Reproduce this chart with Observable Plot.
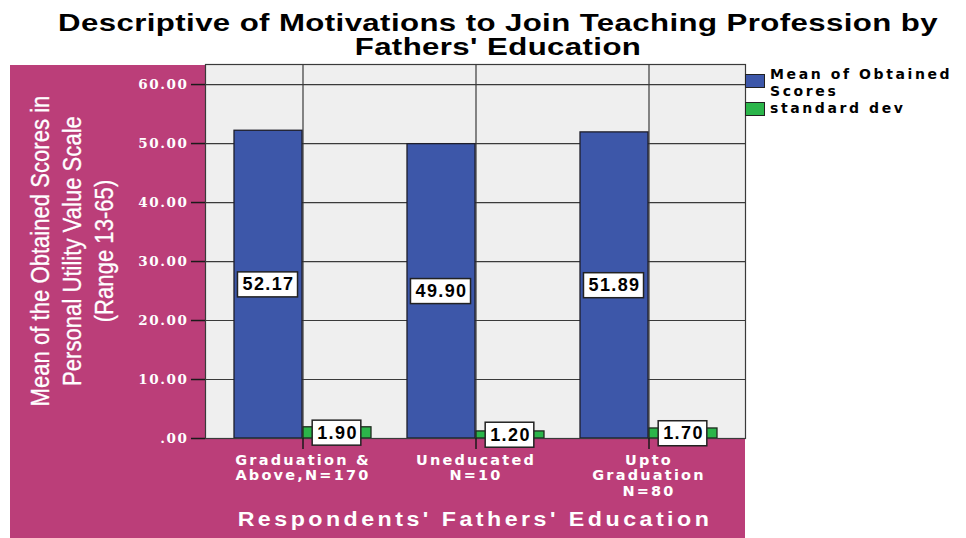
<!DOCTYPE html>
<html>
<head>
<meta charset="utf-8">
<script src="https://cdn.jsdelivr.net/npm/d3@7"></script>
<script src="https://cdn.jsdelivr.net/npm/@observablehq/plot@0.6"></script>
<style>
  html, body { margin: 0; padding: 0; background: #ffffff; }
  #wrap { position: relative; width: 966px; height: 538px; overflow: hidden; }
  #bgpanel { position: absolute; left: 10px; top: 65px; width: 735px; height: 473px; background: #bb3e79; }
  #title { position: absolute; left: 0; top: 11px; width: 996px; text-align: center;
    font-family: "Liberation Sans", Arial, sans-serif; font-weight: bold; font-size: 23px;
    line-height: 24px; letter-spacing: 0.3px; color: #000; transform: scaleX(1.355); transform-origin: 498px 0; }
  #ytitle { position: absolute; left: 72px; top: 251px; width: 400px; margin-left: -200px; margin-top: -48px;
    transform: rotate(-90deg) scaleX(0.85); transform-origin: 50% 48px; text-align: center;
    font-family: "Liberation Sans Narrow", "Liberation Sans", Arial, sans-serif;
    font-size: 26px; line-height: 32px; color: #fff; height: 96px; -webkit-text-stroke: 0.3px #fff; }
  #xtitle { position: absolute; left: 175px; width: 600px; top: 508px; text-align: center;
    font-family: "Liberation Sans", Arial, sans-serif; font-weight: bold; font-size: 20px;
    letter-spacing: 3px; color: #fff; transform: scaleX(1.16); transform-origin: 300px 0; }
  #legend { position: absolute; left: 745px; top: 66px; font-family: "DejaVu Sans", sans-serif;
    font-weight: bold; font-size: 14px; color: #000; letter-spacing: 2.6px; }
  .lg { position: relative; padding-left: 25px; line-height: 16.5px; }
  .sw { position: absolute; left: 0; width: 20px; height: 14px; border: 1px solid #222; box-sizing: border-box; }
  #plot { position: absolute; left: 0; top: 0; }
  g[aria-label="x-axis tick label"] text { letter-spacing: 2.2px; }
  g[aria-label="y-axis tick label"] text { letter-spacing: 1.6px; }
  g[aria-label="text"] text { letter-spacing: 1.4px; }
</style>
</head>
<body>
<div id="wrap">
  <div id="bgpanel"></div>
  <div id="plot"></div>
  <div id="title"></div>
  <div id="ytitle"></div>
  <div id="xtitle"></div>
  <div id="legend"></div>
</div>
<script>
// ---- data ----
const titleLines = ["Descriptive of Motivations to Join Teaching Profession by", "Fathers' Education"];
const yTitleLines = ["Mean of the Obtained Scores in", "Personal Utility Value Scale", "(Range 13-65)"];
const xTitle = "Respondents' Fathers' Education";
const categories = ["Graduation &\nAbove,N=170", "Uneducated\nN=10", "Upto\nGraduation\nN=80"];
const means = [52.17, 49.90, 51.89];
const sds = [1.90, 1.20, 1.70];
const yTicks = [0, 10, 20, 30, 40, 50, 60];
const seriesNames = ["Mean of Obtained\nScores", "standard dev"];
const seriesColors = ["#3d57a9", "#2bb54a"];

const data = categories.map((c, i) => ({cat: c, mean: means[i], sd: sds[i]}));

// ---- text blocks ----
document.getElementById("title").innerHTML = titleLines.join("<br>");
document.getElementById("ytitle").innerHTML = yTitleLines.join("<br>");
document.getElementById("xtitle").textContent = xTitle;
const lg = document.getElementById("legend");
seriesNames.forEach((s, i) => {
  const d = document.createElement("div");
  d.className = "lg";
  d.style.marginBottom = i === 0 ? "1px" : "0";
  d.innerHTML = `<span class="sw" style="background:${seriesColors[i]};top:${i === 0 ? 8 : 2}px"></span>` + s.replace("\n", "<br>");
  lg.appendChild(d);
});

// ---- chart ----
const gridColor = "#3a3a3a";
const labelFont = "Liberation Sans, Arial, sans-serif";
const chart = Plot.plot({
  width: 966,
  height: 538,
  marginTop: 64,
  marginBottom: 100,
  marginLeft: 205,
  marginRight: 221,
  style: {background: "transparent", fontFamily: "DejaVu Sans, sans-serif", overflow: "visible"},
  x: {type: "band", domain: categories, paddingInner: 0, paddingOuter: 0.052, label: null},
  y: {domain: [0, 63.4], label: null},
  marks: [
    Plot.frame({fill: "#efefef", stroke: null}),
    Plot.gridY(yTicks, {stroke: gridColor, strokeOpacity: 1, strokeWidth: 1.2}),
    Plot.gridX({stroke: gridColor, strokeOpacity: 1, strokeWidth: 1.2}),
    Plot.barY(data, {x: "cat", y: "mean", fill: seriesColors[0], stroke: "#1e1e2a", strokeWidth: 1.3, insetLeft: 18, insetRight: 87}),
    Plot.barY(data, {x: "cat", y: "sd", fill: seriesColors[1], stroke: "#1e2a1e", strokeWidth: 1.3, insetLeft: 87, insetRight: 18}),
    Plot.frame({stroke: gridColor, strokeWidth: 1.2}),
    Plot.axisY(yTicks, {
      tickSize: 14, tickPadding: 3, stroke: "#1a1a1a", strokeWidth: 1.5, fill: "#ffffff",
      tickFormat: d => d === 0 ? ".00" : d.toFixed(2),
      fontFamily: "DejaVu Serif, serif", fontWeight: "bold", fontSize: 13.5, label: null
    }),
    Plot.axisX({
      tickSize: 11, tickPadding: 4, stroke: "#1a1a1a", strokeWidth: 1.5, fill: "#ffffff",
      fontFamily: "DejaVu Sans, sans-serif", fontWeight: "bold", fontSize: 14.5, lineHeight: 1.08, label: null
    }),
    Plot.text(data, {x: "cat", y: d => d.mean / 2, text: d => d.mean.toFixed(2), dx: -34.5,
      fill: "#000", fontFamily: labelFont, fontWeight: "bold", fontSize: 18}),
    Plot.text(data, {x: "cat", y: d => d.sd / 2, text: d => d.sd.toFixed(2), dx: 34.5,
      fill: "#000", fontFamily: labelFont, fontWeight: "bold", fontSize: 18})
  ]
});
document.getElementById("plot").appendChild(chart);

// white boxes behind the value labels, sized from each rendered label
chart.querySelectorAll('g[aria-label="text"] text').forEach(t => {
  const b = t.getBBox();
  const r = document.createElementNS("http://www.w3.org/2000/svg", "rect");
  const h = 25;
  r.setAttribute("x", b.x - 5);
  r.setAttribute("y", b.y + b.height / 2 - h / 2);
  r.setAttribute("width", b.width + 8);
  r.setAttribute("height", h);
  r.setAttribute("fill", "#ffffff");
  r.setAttribute("stroke", "#222");
  r.setAttribute("stroke-width", 1.5);
  if (t.getAttribute("transform")) r.setAttribute("transform", t.getAttribute("transform"));
  t.parentNode.insertBefore(r, t);
});
</script>
</body>
</html>
